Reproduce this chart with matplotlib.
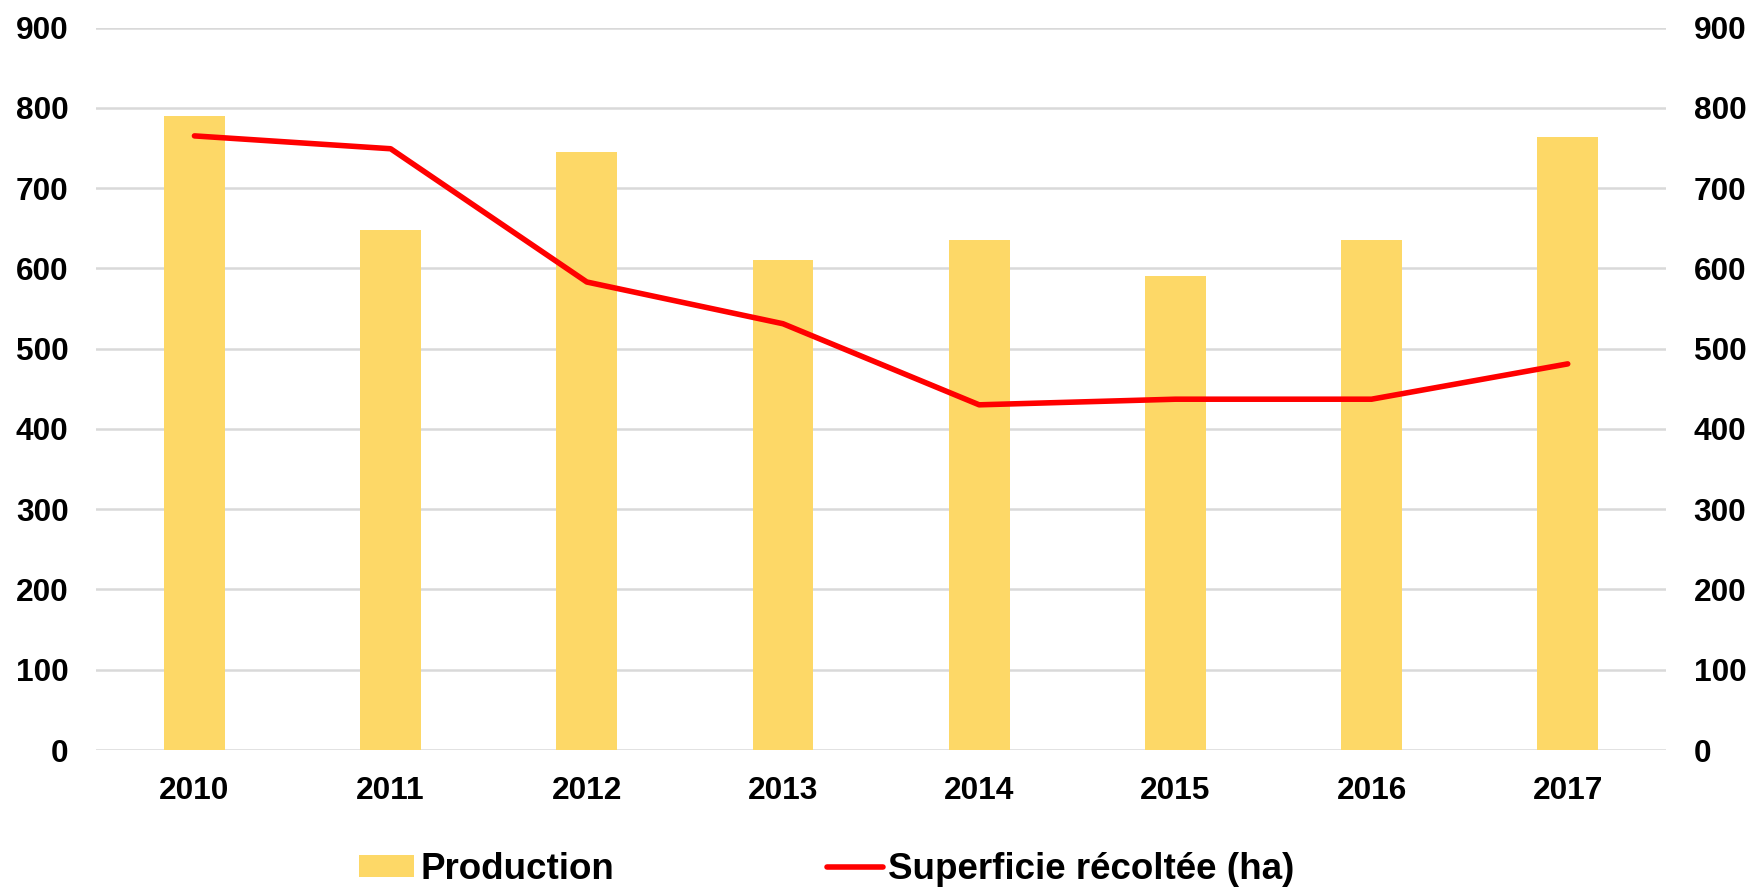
import numpy as np
import matplotlib
matplotlib.use('Agg')
import matplotlib.pyplot as plt

# values
years = ['2010', '2011', '2012', '2013', '2014', '2015', '2016', '2017']
production = [790, 648, 745, 611, 635, 590, 635, 764]
superficie = [765, 749, 583, 531, 430, 437, 437, 481]
yticks = [0, 100, 200, 300, 400, 500, 600, 700, 800, 900]

plt.rcParams['font.family'] = ['Liberation Sans', 'DejaVu Sans']
plt.rcParams['font.weight'] = 'bold'

fig = plt.figure(figsize=(17.52, 8.88), dpi=100)
ax = fig.add_axes([0.055, 0.1554, 0.8958, 0.8136])
x = np.arange(len(years))

ax.bar(x, production, width=0.31, color='#FDD867', label='Production', zorder=2)
ax.set_xlim(-0.5, len(years) - 0.5)
ax.set_ylim(0, 900)
ax.set_yticks(yticks)
ax.set_xticks(x)
ax.set_xticklabels(years)
ax.grid(axis='y', color='#d9d9d9', linewidth=1.8, zorder=0)
ax.set_axisbelow(True)
for s in ax.spines.values():
    s.set_visible(False)
ax.tick_params(axis='both', length=0, labelsize=22.8)
ax.tick_params(axis='y', pad=20)
ax.tick_params(axis='x', pad=19)

ax2 = ax.twinx()
ax2.plot(x, superficie, color='#FF0000', linewidth=4, solid_capstyle='round',
         label='Superficie récoltée (ha)', zorder=3)
ax2.set_ylim(0, 900)
ax2.set_yticks(yticks)
for s in ax2.spines.values():
    s.set_visible(False)
ax2.tick_params(axis='y', length=0, labelsize=22.8, pad=20)

h1, l1 = ax.get_legend_handles_labels()
h2, l2 = ax2.get_legend_handles_labels()
fig.legend(h1 + h2, l1 + l2, loc='center', bbox_to_anchor=(0.472, 0.021), ncol=2,
           frameon=False, prop={'size': 26.5, 'weight': 'bold'},
           handlelength=1.5, handleheight=0.52, handletextpad=0.16,
           columnspacing=5.8)

fig.savefig('out.png', dpi=100)
